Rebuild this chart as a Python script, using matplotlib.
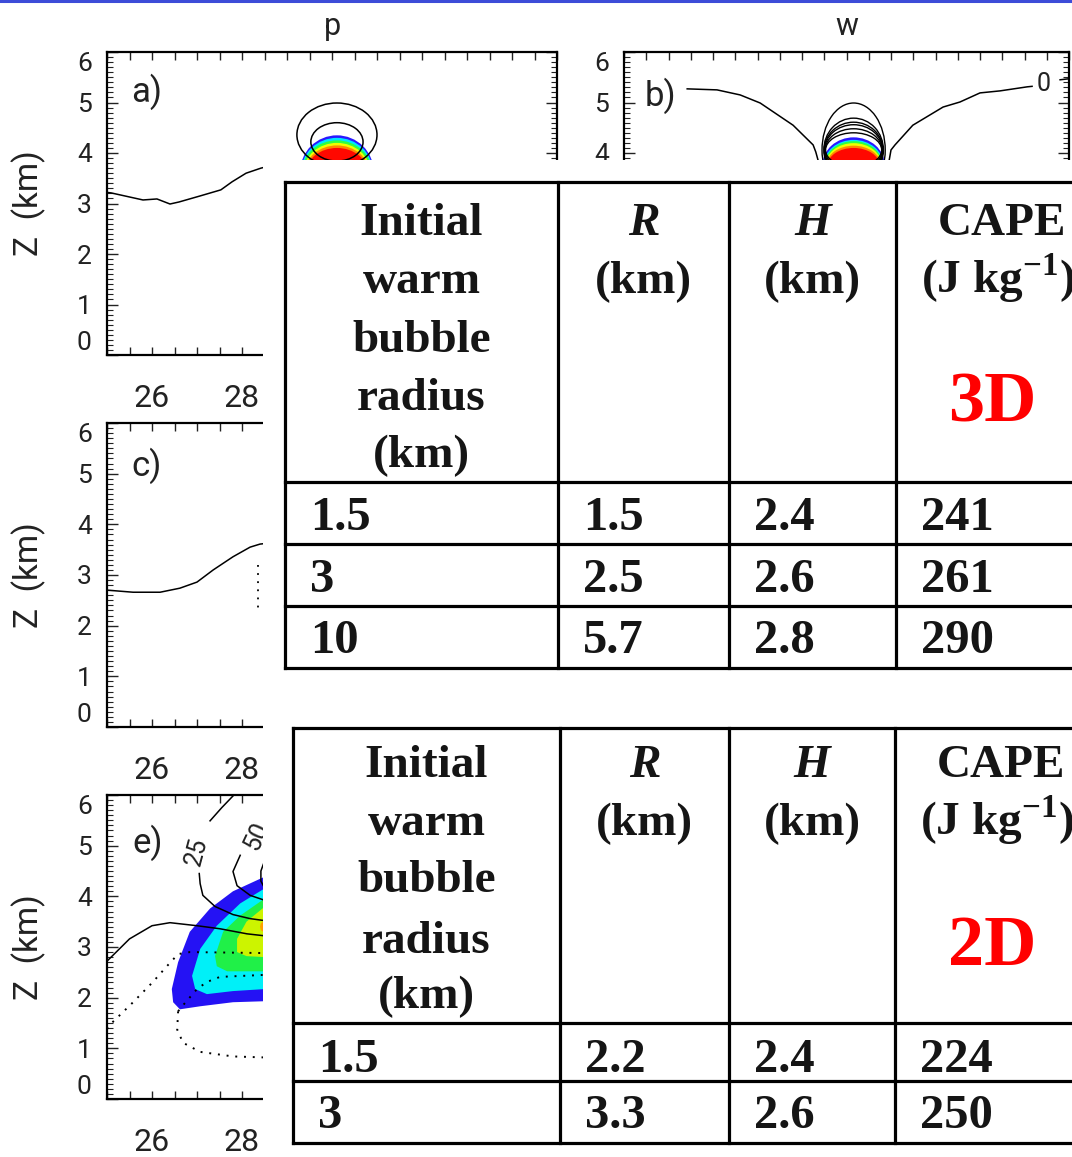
import matplotlib
matplotlib.use("Agg")
import matplotlib.pyplot as plt
from matplotlib.patches import Ellipse, Rectangle
from matplotlib.ticker import MultipleLocator, FuncFormatter

W, H = 1072, 1157

plt.rcParams["font.family"] = ["Roboto", "DejaVu Sans"]
plt.rcParams["font.weight"] = "normal"
plt.rcParams["mathtext.fontset"] = "custom"
plt.rcParams["mathtext.rm"] = "Liberation Serif:bold"

# ---
# data
# ---

# tables
header_col1 = ["Initial", "warm", "bubble", "radius", "(km)"]
header_R = ["R", "(km)"]
header_H = ["H", "(km)"]
header_cape = ["CAPE", r"(J kg$^{\mathrm{-1}}$)"]

radius_3d = ["1.5", "3", "10"]
R_3d = ["1.5", "2.5", "5.7"]
H_3d = ["2.4", "2.6", "2.8"]
cape_3d = ["241", "261", "290"]

radius_2d = ["1.5", "3", "10"]
R_2d = ["2.2", "3.3", "5.4"]
H_2d = ["2.4", "2.6", "2.8"]
cape_2d = ["224", "250", "283"]

# panel a: zero contour and bubble
a_line_x = [25.0, 25.09, 25.8, 26.11, 26.4, 26.6, 27.07, 27.53, 27.78, 28.09, 28.42, 28.6]
a_line_z = [3.22, 3.21, 3.07, 3.09, 2.99, 3.03, 3.15, 3.27, 3.43, 3.6, 3.7, 3.74]
a_fill_x0, a_fill_z0 = 30.11, 3.62
a_fill_rx = [0.82, 0.80, 0.78, 0.74, 0.71, 0.68]
a_fill_rz = [0.73, 0.68, 0.63, 0.58, 0.53, 0.48]
a_cont_x0 = [30.11, 30.11]
a_cont_z0 = [4.36, 4.22]
a_cont_rx = [0.89, 0.58]
a_cont_rz = [0.63, 0.38]

# panel b: zero contour and bubble
b_left_x = [26.42, 27.09, 27.61, 28.06, 28.80, 29.25, 29.31, 29.36, 29.38]
b_left_z = [5.27, 5.25, 5.15, 4.99, 4.55, 4.16, 4.02, 3.86, 3.6]
b_right_x = [30.94, 30.96, 31.0, 31.09, 31.49, 32.17, 32.55, 33.0, 33.45, 34.06, 34.17]
b_right_z = [3.6, 3.86, 4.06, 4.16, 4.55, 4.91, 5.01, 5.19, 5.23, 5.31, 5.32]
b_tail_x = [34.8, 35.0]
b_tail_z = [5.45, 5.47]
b_zero_label = (34.42, 5.37)
b_fill_x0, b_fill_z0 = 30.16, 3.76
b_fill_rx = [0.70, 0.67, 0.65, 0.63, 0.61, 0.58]
b_fill_rz = [0.55, 0.50, 0.475, 0.435, 0.385, 0.34]
b_cont_x0, b_cont_z0 = 30.16, 4.06
b_cont_rx = [0.71, 0.67, 0.66, 0.65, 0.64, 0.63]
b_cont_rz = [0.93, 0.63, 0.55, 0.50, 0.42, 0.34]

# panel c
c_line_x = [25.0, 25.02, 25.58, 26.18, 26.62, 27.0, 27.36, 27.8, 28.18, 28.4, 28.6]
c_line_z = [2.70, 2.70, 2.66, 2.66, 2.74, 2.86, 3.10, 3.36, 3.55, 3.61, 3.63]
c_dot_x = [28.36, 28.36]
c_dot_z = [3.2, 2.3]

# panel e: filled regions (outer to inner)
e_fill_x = [
    [28.51, 27.8, 27.29, 26.84, 26.58, 26.44, 26.47, 26.62, 27.07, 27.8, 28.51],
    [28.51, 27.96, 27.44, 27.07, 26.89, 26.96, 27.22, 27.8, 28.51],
    [28.51, 27.96, 27.58, 27.4, 27.44, 27.67, 28.51],
    [28.51, 28.1, 27.89, 27.89, 28.1, 28.51],
    [28.51, 28.42, 28.4, 28.42, 28.51],
]
e_fill_z = [
    [4.39, 4.1, 3.76, 3.30, 2.70, 2.17, 1.91, 1.77, 1.83, 1.91, 1.93],
    [4.16, 3.86, 3.42, 2.96, 2.43, 2.17, 2.07, 2.13, 2.17],
    [3.96, 3.62, 3.30, 2.82, 2.62, 2.52, 2.52],
    [3.80, 3.5, 3.16, 2.9, 2.82, 2.8],
    [3.52, 3.47, 3.4, 3.33, 3.28],
]
# panel e: solid contours
e_lower_x = [25.0, 25.5, 26.0, 26.4, 27.0, 27.51, 28.11, 28.51]
e_lower_z = [2.72, 3.16, 3.42, 3.48, 3.42, 3.36, 3.26, 3.22]
e_c25_top_x = [27.82, 27.55, 27.29]
e_c25_top_z = [6.0, 5.75, 5.49]
e_c25_x = [27.05, 27.07, 27.13, 27.4, 27.8, 28.18, 28.51]
e_c25_z = [4.45, 4.25, 4.02, 3.8, 3.64, 3.56, 3.52]
e_c50_x = [27.96, 27.8, 27.89, 28.18, 28.51]
e_c50_z = [4.81, 4.49, 4.21, 4.02, 3.92]
e_c75_x = [28.51, 28.42, 28.42, 28.51]
e_c75_z = [4.72, 4.5, 4.3, 4.15]
e_c25_label = (27.0, 4.89)
e_c50_label = (28.33, 5.19)
# panel e: dotted contours
e_d1_x = [25.0, 25.07, 25.58, 26.02, 26.33, 26.58, 26.84, 28.51]
e_d1_z = [1.38, 1.47, 1.91, 2.31, 2.62, 2.86, 2.9, 2.88]
e_d2_x = [26.58, 26.67, 27.0, 27.22, 27.51, 28.51]
e_d2_z = [1.73, 1.83, 2.17, 2.31, 2.41, 2.45]
e_d3_x = [26.58, 26.56, 26.69, 27.07, 27.8, 28.51]
e_d3_z = [1.73, 1.37, 1.11, 0.93, 0.84, 0.82]

# ---
# styles
# ---
jet_a = ["#2a18ff", "#00e6ff", "#30ff40", "#f0ff00", "#ff8a00", "#ff0800"]
jet_e = ["#2412f4", "#00f0f8", "#20f048", "#ccf400", "#ffa000"]
text_col = "#222222"
dotted = (0, (1, 3.5))


def px_rect(x0, y0, x1, y1):
    return [x0 / W, 1 - y1 / H, (x1 - x0) / W, (y1 - y0) / H]


def even_label(v, pos):
    r = round(v)
    if abs(v - r) < 1e-6 and r % 2 == 0:
        return f"{r:d}"
    return ""


def style_panel(ax, label, label_xy, ylabel=True):
    ax.set_xlim(25, 35)
    ax.set_ylim(0, 6)
    ax.xaxis.set_major_locator(MultipleLocator(0.5))
    ax.xaxis.set_major_formatter(FuncFormatter(even_label))
    ax.set_yticks(range(7))
    ax.set_yticklabels([str(v) for v in range(7)])
    ax.yaxis.set_minor_locator(MultipleLocator(0.1))
    ax.tick_params(which="both", direction="in", top=True, right=True,
                   width=1.0, color=text_col, labelcolor=text_col)
    ax.tick_params(axis="x", which="major", length=6, labelsize=23, pad=21)
    ax.tick_params(axis="y", which="major", length=8, labelsize=19, pad=11)
    ax.tick_params(axis="y", which="minor", length=4, width=0.8)
    ylabs = ax.get_yticklabels()
    ylabs[0].set_va("bottom")
    ylabs[-1].set_va("top")
    for s in ax.spines.values():
        s.set_linewidth(1.6)
    if ylabel:
        ax.set_ylabel("Z  (km)", fontsize=24, color=text_col)
        ax.yaxis.set_label_coords(-0.136, 0.5)
    ax.text(label_xy[0], label_xy[1], label, transform=ax.transAxes,
            ha="center", va="center", fontsize=25, color=text_col)


fig = plt.figure(figsize=(W / 100, H / 100), dpi=100)

# ---
# panel a
# ---
ax_a = fig.add_axes(px_rect(107, 52, 557, 355))
style_panel(ax_a, "a)", (0.087, 0.868))
ax_a.text(0.5, 1.055, "p", transform=ax_a.transAxes, ha="center",
          va="baseline", fontsize=22, color=text_col)
for rx, rz, col in zip(a_fill_rx, a_fill_rz, jet_a):
    ax_a.add_patch(Ellipse((a_fill_x0, a_fill_z0), 2 * rx, 2 * rz,
                           facecolor=col, edgecolor="none"))
for x0, z0, rx, rz in zip(a_cont_x0, a_cont_z0, a_cont_rx, a_cont_rz):
    ax_a.add_patch(Ellipse((x0, z0), 2 * rx, 2 * rz, facecolor="none",
                           edgecolor="black", lw=1.1))
ax_a.plot(a_line_x, a_line_z, color="black", lw=1.1)

# ---
# panel b
# ---
ax_b = fig.add_axes(px_rect(624, 52, 1069, 355))
style_panel(ax_b, "b)", (0.083, 0.855), ylabel=False)
ax_b.text(0.5, 1.055, "w", transform=ax_b.transAxes, ha="center",
          va="baseline", fontsize=22, color=text_col)
for rx, rz, col in zip(b_fill_rx, b_fill_rz, jet_a):
    ax_b.add_patch(Ellipse((b_fill_x0, b_fill_z0), 2 * rx, 2 * rz,
                           facecolor=col, edgecolor="none"))
for rx, rz in zip(b_cont_rx, b_cont_rz):
    ax_b.add_patch(Ellipse((b_cont_x0, b_cont_z0), 2 * rx, 2 * rz,
                           facecolor="none", edgecolor="black", lw=1.0))
ax_b.plot(b_left_x, b_left_z, color="black", lw=1.1)
ax_b.plot(b_right_x, b_right_z, color="black", lw=1.1)
ax_b.plot(b_tail_x, b_tail_z, color="black", lw=1.1)
ax_b.text(*b_zero_label, "0", ha="center", va="center", fontsize=18,
          color=text_col)

# ---
# panel c
# ---
ax_c = fig.add_axes(px_rect(107, 423, 557, 727))
style_panel(ax_c, "c)", (0.087, 0.859))
ax_c.plot(c_line_x, c_line_z, color="black", lw=1.1)
ax_c.plot(c_dot_x, c_dot_z, color="black", lw=1.3, ls=dotted)

# ---
# panel e
# ---
ax_e = fig.add_axes(px_rect(107, 795, 557, 1099))
style_panel(ax_e, "e)", (0.091, 0.842))
for xs, zs, col in zip(e_fill_x, e_fill_z, jet_e):
    ax_e.fill(xs, zs, color=col, lw=0)
for xs, zs in [(e_lower_x, e_lower_z), (e_c25_top_x, e_c25_top_z),
               (e_c25_x, e_c25_z), (e_c50_x, e_c50_z), (e_c75_x, e_c75_z)]:
    ax_e.plot(xs, zs, color="black", lw=1.1)
for xs, zs in [(e_d1_x, e_d1_z), (e_d2_x, e_d2_z), (e_d3_x, e_d3_z)]:
    ax_e.plot(xs, zs, color="black", lw=1.4, ls=dotted)
ax_e.text(*e_c25_label, "25", rotation=75, ha="center", va="center",
          fontsize=18, color=text_col)
ax_e.text(*e_c50_label, "50", rotation=65, ha="center", va="center",
          fontsize=18, color=text_col)

# ---
# overlay: blue rule, white cover and the two tables (pixel coordinates)
# ---
ov = fig.add_axes([0, 0, 1, 1], zorder=10)
ov.set_xlim(0, W)
ov.set_ylim(H, 0)
ov.axis("off")
ov.patch.set_alpha(0)

ov.plot([0, W], [1, 1], color="#3d4cd8", lw=2.2)
ov.add_patch(Rectangle((263, 160), W - 263, H - 160, facecolor="white",
                       edgecolor="none"))

serif = dict(family="Liberation Serif", weight="bold", color="#151515")


def draw_table(top, cols, rows, head_base, row_base, values, tag, tag_base):
    lw = 2.3
    bottom = min(rows[-1], H + 5)
    ov.plot([cols[0], W], [top, top], color="black", lw=lw)
    for xc in cols:
        ov.plot([xc, xc], [top, bottom], color="black", lw=lw)
    for yr in rows:
        ov.plot([cols[0], W], [yr, yr], color="black", lw=lw)
    centers = [(cols[0] + cols[1]) / 2, (cols[1] + cols[2]) / 2,
               (cols[2] + cols[3]) / 2, cols[3] + 106]
    for i, txt in enumerate(header_col1):
        ov.text(centers[0], head_base[i], txt, ha="center", va="baseline",
                fontsize=34, **serif)
    for col_i, hdr in [(1, header_R), (2, header_H)]:
        ov.text(centers[col_i], head_base[0], hdr[0], ha="center",
                va="baseline", fontsize=34, style="italic", **serif)
        ov.text(centers[col_i], head_base[1], hdr[1], ha="center",
                va="baseline", fontsize=34, **serif)
    ov.text(centers[3], head_base[0], header_cape[0], ha="center",
            va="baseline", fontsize=34, **serif)
    ov.text(centers[3] - 4, head_base[1], header_cape[1], ha="center",
            va="baseline", fontsize=34, **serif)
    ov.text(992, tag_base, tag, ha="center", va="baseline", fontsize=52,
            family="Liberation Serif", weight="bold", color="#ff0000")
    for r, yb in enumerate(row_base):
        for c, xc in enumerate(cols):
            ov.text(xc + 25, yb, values[c][r], ha="left", va="baseline",
                    fontsize=35, **serif)


draw_table(182, [285, 558, 729, 896], [482, 544, 606, 668],
           [235, 293, 352, 410, 467], [530, 592, 653],
           [radius_3d, R_3d, H_3d, cape_3d], "3D", 422)
draw_table(728, [293, 560, 729, 895], [1023, 1081, 1143],
           [777, 835, 892, 953, 1008], [1072, 1128, 1190],
           [radius_2d, R_2d, H_2d, cape_2d], "2D", 965)

fig.savefig("out.png", dpi=100)
